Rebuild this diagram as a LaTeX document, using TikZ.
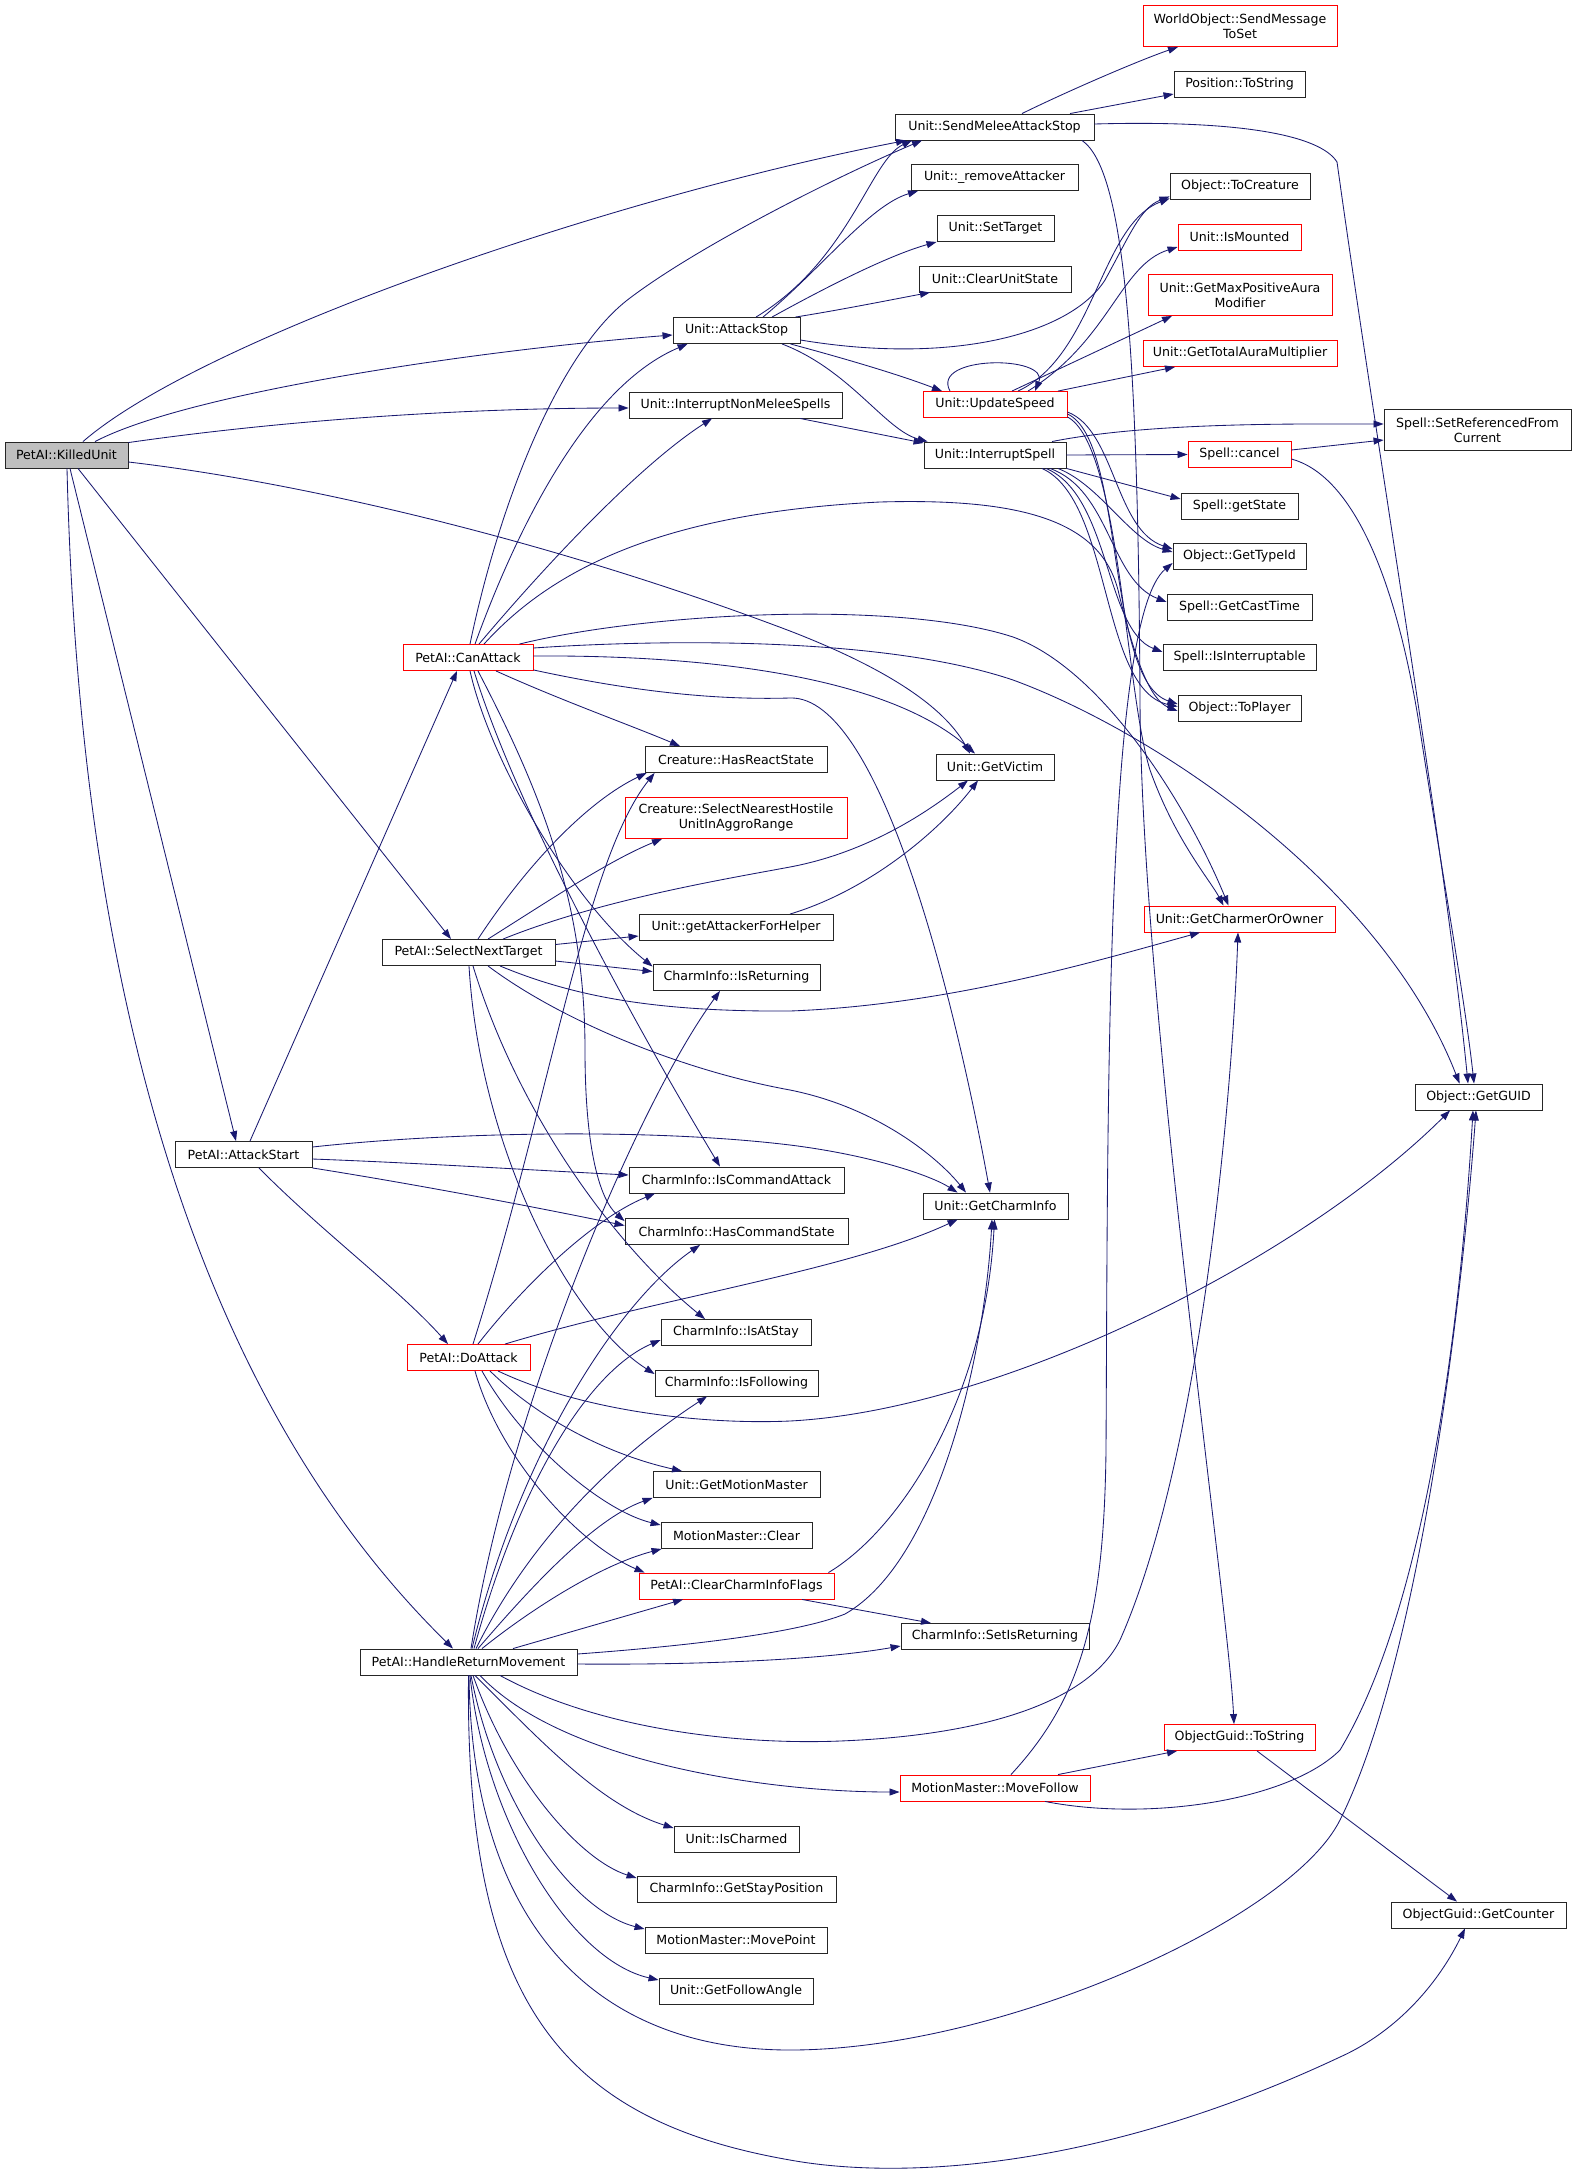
\documentclass[tikz,border=0pt]{standalone}
\usepackage{fontspec}
\setmainfont{DejaVu Sans}
\usetikzlibrary{arrows.meta,calc}
\definecolor{edgec}{HTML}{191970}
\tikzset{
  fn/.style={draw=black!85, line width=0.9pt, inner sep=0pt, fill=white, align=center,
    font=\fontsize{12.6}{15}\selectfont},
  rb/.style={fn, draw=red},
  root/.style={fn, fill=black!25},
  e/.style={draw=edgec, line width=0.85pt, -{Triangle[length=10pt,width=7pt]}},
}
\newcommand{\mknode}[6]{\node[#1, minimum width=#5pt, minimum height=#6pt] (#2) at (#3) {#4};}
\begin{document}
\begin{tikzpicture}[x=1pt,y=-1pt]
\useasboundingbox[fill=white] (0,0) rectangle (1577,2181);
% nodes
\mknode{root}{KU}{66.5,455}{PetAI::KilledUnit}{123}{26}
\mknode{fn}{SMAS}{994.5,127}{Unit::SendMeleeAttackStop}{199}{26}
\mknode{fn}{AS}{736.5,330.5}{Unit::AttackStop}{127}{26}
\mknode{fn}{INMS}{735.5,405}{Unit::InterruptNonMeleeSpells}{213}{26}
\mknode{rb}{CA}{468,657.5}{PetAI::CanAttack}{130}{26}
\mknode{rb}{WOSM}{1240,26}{WorldObject::SendMessage\\ToSet}{194}{41}
\mknode{fn}{PTS}{1239.5,84.5}{Position::ToString}{131}{26}
\mknode{fn}{RA}{994.5,177.5}{Unit::\_removeAttacker}{167}{26}
\mknode{fn}{ST}{995.5,228.5}{Unit::SetTarget}{117}{26}
\mknode{fn}{CUS}{995,279}{Unit::ClearUnitState}{152}{26}
\mknode{fn}{TC}{1240,186}{Object::ToCreature}{140}{26}
\mknode{rb}{IM}{1239.5,237}{Unit::IsMounted}{123}{26}
\mknode{rb}{GMPAM}{1240,295}{Unit::GetMaxPositiveAura\\Modifier}{184}{41}
\mknode{rb}{GTAM}{1240,353.5}{Unit::GetTotalAuraMultiplier}{194}{26}
\mknode{rb}{US}{995,404.5}{Unit::UpdateSpeed}{144}{26}
\mknode{fn}{IS}{995,455}{Unit::InterruptSpell}{142}{26}
\mknode{rb}{SC}{1239.5,454.5}{Spell::cancel}{103}{26}
\mknode{fn}{SRFC}{1477.5,430}{Spell::SetReferencedFrom\\Current}{187}{41}
\mknode{fn}{GS}{1239.5,506}{Spell::getState}{117}{26}
\mknode{fn}{GTI}{1239.5,556}{Object::GetTypeId}{133}{26}
\mknode{fn}{GCT}{1239.5,607.5}{Spell::GetCastTime}{145}{26}
\mknode{fn}{II}{1239.5,657.5}{Spell::IsInterruptable}{153}{26}
\mknode{fn}{TP}{1239.5,708.5}{Object::ToPlayer}{123}{26}
\mknode{fn}{HRS}{736,759.5}{Creature::HasReactState}{182}{26}
\mknode{rb}{SNH}{736,818}{Creature::SelectNearestHostile\\UnitInAggroRange}{222}{41}
\mknode{fn}{GAFH}{736,927.5}{Unit::getAttackerForHelper}{194}{26}
\mknode{fn}{SNT}{468.5,952.5}{PetAI::SelectNextTarget}{173}{26}
\mknode{fn}{IR}{736.5,977.5}{CharmInfo::IsReturning}{167}{26}
\mknode{fn}{AST}{243.5,1154.5}{PetAI::AttackStart}{137}{26}
\mknode{fn}{ICA}{736.5,1180}{CharmInfo::IsCommandAttack}{215}{26}
\mknode{fn}{HCS}{736.5,1231.5}{CharmInfo::HasCommandState}{223}{26}
\mknode{fn}{IAS}{736,1332.5}{CharmInfo::IsAtStay}{150}{26}
\mknode{rb}{DA}{468.5,1357.5}{PetAI::DoAttack}{123}{26}
\mknode{fn}{IF}{736.5,1383}{CharmInfo::IsFollowing}{163}{26}
\mknode{fn}{GV}{995,767}{Unit::GetVictim}{118}{26}
\mknode{rb}{GCO}{1239.5,919}{Unit::GetCharmerOrOwner}{191}{26}
\mknode{fn}{GG}{1478.5,1097}{Object::GetGUID}{127}{26}
\mknode{fn}{GCI}{995.5,1206}{Unit::GetCharmInfo}{145}{26}
\mknode{fn}{GMM}{736.5,1484.5}{Unit::GetMotionMaster}{167}{26}
\mknode{fn}{MMC}{736.5,1535.5}{MotionMaster::Clear}{151}{26}
\mknode{rb}{CCIF}{736.5,1586}{PetAI::ClearCharmInfoFlags}{195}{26}
\mknode{fn}{HRM}{468.5,1662}{PetAI::HandleReturnMovement}{217}{26}
\mknode{fn}{ICh}{736.5,1839}{Unit::IsCharmed}{125}{26}
\mknode{fn}{GSP}{736.5,1889.5}{CharmInfo::GetStayPosition}{199}{26}
\mknode{fn}{MP}{736,1940}{MotionMaster::MovePoint}{182}{26}
\mknode{fn}{GFA}{736,1991}{Unit::GetFollowAngle}{154}{26}
\mknode{fn}{SIR}{995,1636.5}{CharmInfo::SetIsReturning}{188}{26}
\mknode{rb}{OGTS}{1239.5,1737.5}{ObjectGuid::ToString}{151}{26}
\mknode{rb}{MF}{995,1788}{MotionMaster::MoveFollow}{190}{26}
\mknode{fn}{GC}{1478.5,1915}{ObjectGuid::GetCounter}{175}{26}
% KilledUnit
\draw[e] ($(KU.north)+(16.5,0)$) .. controls (200,340) and (600,200) .. ($(SMAS.south)+(-88.5,0)$);
\draw[e] ($(KU.north)+(28.5,0)$) .. controls (190,392) and (480,350) .. ($(AS.west)+(0,4.5)$);
\draw[e] ($(KU.north east)+(0,1)$) .. controls (300,418) and (480,408) .. ($(INMS.west)+(0,3)$);
\draw[e] ($(KU.east)+(0,7)$) .. controls (300,482) and (550,540) .. (790,631) .. controls (870,662) and (940,700) .. ($(GV.north)+(-25,0)$);
\draw[e] ($(KU.south)+(11.5,0)$) -- ($(SNT.north)+(-17.5,0)$);
\draw[e] ($(KU.south)+(3.5,0)$) -- ($(AST.north)+(-7.5,0)$);
\draw[e] ($(KU.south)+(0.5,0)$) .. controls (80,1000) and (200,1400) .. ($(HRM.north)+(-15.5,0)$);
% AttackStop
\draw[e] ($(AS.north)+(19.5,0)$) .. controls (850,260) and (870,160) .. ($(SMAS.south)+(-82.5,0)$);
\draw[e] ($(AS.north)+(26.5,0)$) .. controls (820,270) and (870,205) .. ($(RA.south)+(-76.5,0)$);
\draw[e] ($(AS.north)+(35.5,0)$) .. controls (830,285) and (890,255) .. (ST.south west);
\draw[e] ($(AS.north east)+(-5,0)$) .. controls (840,310) and (890,300) .. ($(CUS.south)+(-65,0)$);
\draw[e] ($(AS.east)+(0,9.5)$) .. controls (950,365) and (1070,335) .. (1105,280) .. controls (1130,235) and (1140,208) .. ($(TC.south west)+(0,-3)$);
\draw[e] ($(AS.south east)+(-10,0)$) .. controls (850,360) and (900,375) .. ($(US.north)+(-53,0)$);
\draw[e] ($(AS.south)+(45.5,0)$) .. controls (850,370) and (885,430) .. ($(IS.north west)+(4,0)$);
\draw[e] ($(INMS.south)+(64.5,0)$) -- ($(IS.west)+(0,-12)$);
% UpdateSpeed
\draw[e] ($(US.north)+(-45,0)$) .. controls (930,355) and (1050,355) .. ($(US.north)+(40,0)$);
\draw[e] ($(US.north)+(23,0)$) .. controls (1095,355) and (1100,225) .. ($(TC.south west)+(0,-1)$);
\draw[e] ($(US.north)+(33,0)$) .. controls (1110,340) and (1120,265) .. ($(IM.west)+(0,10)$);
\draw[e] ($(US.north)+(17,0)$) -- ($(GMPAM.south)+(-68,0)$);
\draw[e] ($(US.north)+(63,0)$) -- ($(GTAM.south)+(-65,0)$);
\draw[e] ($(US.east)+(0,7.5)$) .. controls (1115,430) and (1115,530) .. ($(GTI.west)+(0,-7)$);
\draw[e] ($(US.east)+(0,9.5)$) .. controls (1125,440) and (1105,680) .. ($(TP.west)+(0,-4.5)$);
\draw[e] ($(US.south east)+(0,-1)$) .. controls (1120,445) and (1125,690) .. (1150,770) .. controls (1175,840) and (1210,880) .. ($(GCO.north)+(-16,0)$);
% InterruptSpell
\draw[e] ($(IS.north)+(57,0)$) .. controls (1150,422) and (1300,424) .. ($(SRFC.west)+(0,-6)$);
\draw[e] (IS.east) -- (SC.west);
\draw[e] (IS.south east) -- ($(GS.west)+(0,-7)$);
\draw[e] ($(IS.south)+(63,0)$) .. controls (1100,485) and (1130,540) .. ($(GTI.west)+(0,-4)$);
\draw[e] ($(IS.south)+(55,0)$) .. controls (1110,490) and (1110,580) .. ($(GCT.west)+(0,-5.5)$);
\draw[e] ($(IS.south)+(51,0)$) .. controls (1110,495) and (1105,630) .. ($(II.west)+(0,-5.5)$);
\draw[e] ($(IS.south)+(47,0)$) .. controls (1112,500) and (1100,690) .. ($(TP.west)+(0,-2)$);
% Spell::cancel
\draw[e] ($(SC.east)+(0,-4.5)$) -- ($(SRFC.west)+(0,10)$);
\draw[e] ($(SC.east)+(0,4.5)$) .. controls (1350,475) and (1395,570) .. (1420,730) .. controls (1440,860) and (1465,1000) .. ($(GG.north)+(-4.5,0)$);
% SendMeleeAttackStop
\draw[e] ($(SMAS.north)+(27.5,0)$) .. controls (1070,90) and (1140,60) .. ($(WOSM.south)+(-62,0)$);
\draw[e] ($(SMAS.north)+(75.5,0)$) -- ($(PTS.west)+(0,9.5)$);
\draw[e] ($(SMAS.east)+(0,-3)$) .. controls (1240,120) and (1320,135) .. (1337,162) .. controls (1380,470) and (1445,850) .. ($(GG.north)+(-10.5,0)$);
\draw[e] ($(SMAS.south)+(87.5,0)$) .. controls (1125,170) and (1138,350) .. (1140,700) .. controls (1141,1000) and (1228,1600) .. ($(OGTS.north)+(-5.5,0)$);
% CanAttack
\draw[e] ($(CA.north)+(2,0)$) .. controls (500,500) and (560,350) .. (630,298) .. controls (700,245) and (840,175) .. ($(SMAS.south)+(-72.5,0)$);
\draw[e] ($(CA.north)+(7,0)$) .. controls (520,520) and (590,385) .. ($(AS.south west)+(15,0)$);
\draw[e] ($(CA.north)+(11,0)$) .. controls (550,560) and (640,465) .. ($(INMS.south)+(-23.5,0)$);
\draw[e] ($(CA.north)+(16,0)$) .. controls (560,560) and (680,512) .. (880,502) .. controls (1020,498) and (1100,520) .. (1118,590) .. controls (1135,660) and (1150,700) .. ($(TP.west)+(0,2.5)$);
\draw[e] ($(CA.north east)+(-14,0)$) .. controls (650,612) and (900,600) .. (1013,637) .. controls (1100,668) and (1185,800) .. ($(GCO.north)+(-11,0)$);
\draw[e] ($(CA.east)+(0,-9.5)$) .. controls (650,640) and (880,635) .. (1013,680) .. controls (1150,730) and (1380,880) .. ($(GG.north west)+(45,0)$);
\draw[e] ($(CA.east)+(0,-1.5)$) .. controls (680,655) and (880,670) .. ($(GV.north)+(-20,0)$);
\draw[e] ($(CA.south east)+(0,-1)$) .. controls (640,693) and (720,700) .. (790,698) .. controls (880,695) and (955,1000) .. ($(GCI.north)+(-5.5,0)$);
\draw[e] ($(CA.south)+(28,0)$) .. controls (560,700) and (630,725) .. ($(HRS.north)+(-56,0)$);
\draw[e] ($(CA.south)+(2,0)$) .. controls (490,760) and (570,900) .. ($(IR.west)+(0,-11)$);
\draw[e] ($(CA.south)+(6,0)$) .. controls (520,820) and (650,1050) .. ($(ICA.north)+(-16.5,0)$);
\draw[e] ($(CA.south)+(10,0)$) .. controls (540,790) and (585,900) .. (585,1050) .. controls (585,1150) and (600,1200) .. ($(HCS.north west)+(0,3)$);
% SelectNextTarget
\draw[e] ($(SNT.north)+(9.5,0)$) .. controls (530,860) and (590,800) .. ($(HRS.south west)+(2,0)$);
\draw[e] ($(SNT.north)+(19.5,0)$) .. controls (550,900) and (610,860) .. ($(SNH.south)+(-74,0)$);
\draw[e] ($(SNT.north)+(34.5,0)$) .. controls (600,900) and (720,880) .. (790,867) .. controls (870,852) and (930,810) .. ($(GV.south)+(-27,0)$);
\draw[e] ($(SNT.east)+(0,-8)$) -- ($(GAFH.west)+(0,8.5)$);
\draw[e] ($(SNT.east)+(0,8.5)$) -- ($(IR.west)+(0,-6)$);
\draw[e] ($(SNT.south)+(31.5,0)$) .. controls (570,995) and (650,1012) .. (790,1011) .. controls (950,1005) and (1100,960) .. ($(GCO.south)+(-39.5,0)$);
\draw[e] ($(SNT.south)+(19.5,0)$) .. controls (560,1020) and (680,1070) .. (790,1090) .. controls (880,1108) and (940,1160) .. ($(GCI.north)+(-29.5,0)$);
\draw[e] ($(SNT.south)+(4.5,0)$) .. controls (520,1120) and (620,1250) .. ($(IAS.north)+(-31,0)$);
\draw[e] ($(SNT.south)+(0.5,0)$) .. controls (480,1150) and (570,1320) .. ($(IF.west)+(0,-9)$);
\draw[e] ($(GAFH.north)+(54,0)$) .. controls (870,890) and (940,830) .. ($(GV.south)+(-17,0)$);
% AttackStart
\draw[e] ($(AST.north)+(6.5,0)$) -- ($(CA.south)+(-11,0)$);
\draw[e] ($(AST.east)+(0,-7.5)$) .. controls (450,1132) and (650,1128) .. (790,1145) .. controls (870,1155) and (930,1175) .. ($(GCI.north west)+(35,0)$);
\draw[e] ($(AST.east)+(0,4.5)$) .. controls (420,1163) and (530,1170) .. ($(ICA.west)+(0,-5)$);
\draw[e] (AST.south east) .. controls (420,1185) and (540,1208) .. ($(HCS.west)+(0,-6)$);
\draw[e] ($(AST.south)+(15.5,0)$) .. controls (320,1230) and (400,1290) .. ($(DA.north)+(-20.5,0)$);
% DoAttack
\draw[e] ($(DA.north)+(4.5,0)$) .. controls (550,1100) and (585,860) .. ($(HRS.south west)+(10,0)$);
\draw[e] ($(DA.north)+(9.5,0)$) .. controls (520,1290) and (590,1220) .. ($(ICA.south)+(-81.5,0)$);
\draw[e] ($(DA.north)+(36.5,0)$) .. controls (650,1300) and (850,1270) .. ($(GCI.south west)+(35,0)$);
\draw[e] ($(DA.south)+(29.5,0)$) .. controls (580,1410) and (700,1425) .. (790,1421) .. controls (1000,1410) and (1300,1260) .. ($(GG.south)+(-28.5,0)$);
\draw[e] ($(DA.south)+(21.5,0)$) .. controls (540,1420) and (610,1455) .. ($(GMM.north)+(-54.5,0)$);
\draw[e] ($(DA.south)+(13.5,0)$) .. controls (520,1440) and (600,1510) .. ($(MMC.west)+(0,-10.5)$);
\draw[e] ($(DA.south)+(6.5,0)$) .. controls (500,1460) and (580,1545) .. ($(CCIF.north west)+(6,0)$);
% HandleReturnMovement
\draw[e] ($(HRM.north)+(2.5,0)$) .. controls (510,1400) and (640,1100) .. ($(IR.south)+(-16.5,0)$);
\draw[e] ($(HRM.north)+(3.5,0)$) .. controls (520,1450) and (620,1300) .. ($(HCS.south)+(-36.5,0)$);
\draw[e] ($(HRM.north)+(5.5,0)$) .. controls (520,1480) and (590,1370) .. ($(IAS.west)+(0,7.5)$);
\draw[e] ($(HRM.north)+(7.5,0)$) .. controls (540,1520) and (640,1440) .. ($(IF.south)+(-29.5,0)$);
\draw[e] ($(HRM.north)+(9.5,0)$) .. controls (520,1600) and (590,1520) .. (GMM.south west);
\draw[e] ($(HRM.north)+(13.5,0)$) .. controls (530,1610) and (600,1565) .. ($(MMC.south west)+(1,0)$);
\draw[e] ($(HRM.north)+(44.5,0)$) -- ($(CCIF.south)+(-53.5,0)$);
\draw[e] ($(HRM.east)+(0,-8)$) .. controls (700,1645) and (800,1632) .. (845,1614) .. controls (940,1560) and (985,1350) .. ($(GCI.south)+(-3.5,0)$);
\draw[e] ($(HRM.east)+(0,2)$) .. controls (700,1665) and (820,1660) .. ($(SIR.west)+(0,9.5)$);
\draw[e] ($(HRM.south)+(31.5,0)$) .. controls (600,1730) and (740,1745) .. (840,1741) .. controls (990,1735) and (1090,1700) .. (1120,1640) .. controls (1200,1460) and (1232,1100) .. ($(GCO.south)+(-1.5,0)$);
\draw[e] ($(HRM.south)+(11.5,0)$) .. controls (560,1760) and (760,1792) .. ($(MF.west)+(0,4)$);
\draw[e] ($(HRM.south)+(6.5,0)$) .. controls (540,1740) and (600,1805) .. ($(ICh.west)+(0,-11)$);
\draw[e] ($(HRM.south)+(4.5,0)$) .. controls (510,1780) and (580,1860) .. ($(GSP.west)+(0,-11.5)$);
\draw[e] ($(HRM.south)+(2.5,0)$) .. controls (495,1800) and (570,1910) .. ($(MP.west)+(0,-11)$);
\draw[e] ($(HRM.south)+(1.5,0)$) .. controls (485,1820) and (570,1960) .. ($(GFA.west)+(0,-11)$);
\draw[e] ($(HRM.south)+(0.5,0)$) .. controls (472,1930) and (600,2050) .. (790,2050) .. controls (1000,2050) and (1290,1920) .. (1340,1820) .. controls (1420,1660) and (1462,1300) .. ($(GG.south)+(-2.5,0)$);
\draw[e] (HRM.south) .. controls (465,2000) and (560,2120) .. (790,2160) .. controls (900,2180) and (1100,2170) .. (1340,2057) .. controls (1400,2030) and (1440,1980) .. ($(GC.south)+(-13.5,0)$);
% MoveFollow, ToString, ClearCharmInfoFlags
\draw[e] ($(MF.north)+(63,0)$) -- ($(OGTS.south)+(-62.5,0)$);
\draw[e] ($(MF.north)+(16,0)$) .. controls (1080,1700) and (1104,1620) .. (1106,1450) .. controls (1108,1100) and (1105,620) .. ($(GTI.west)+(0,7)$);
\draw[e] ($(MF.south)+(50,0)$) .. controls (1150,1822) and (1290,1800) .. (1340,1750) .. controls (1430,1600) and (1462,1300) .. ($(GG.south)+(-5.5,0)$);
\draw[e] ($(OGTS.south)+(17.5,0)$) -- ($(GC.north)+(-21.5,0)$);
\draw[e] ($(CCIF.north east)+(-6,0)$) .. controls (900,1530) and (985,1400) .. ($(GCI.south)+(-1,0)$);
\draw[e] ($(CCIF.south)+(65.5,0)$) -- ($(SIR.north)+(-64,0)$);
\end{tikzpicture}
\end{document}
